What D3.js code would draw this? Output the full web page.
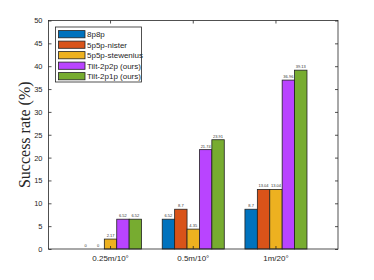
<!DOCTYPE html>
<html><head><meta charset="utf-8">
<script src="https://cdn.jsdelivr.net/npm/d3@7"></script>
<style>body{margin:0;background:#fff}svg{display:block}</style>
</head><body>
<svg id="c" width="374" height="280"></svg>
<script>
const categories = ["0.25m/10°", "0.5m/10°", "1m/20°"];
const seriesNames = ["8p8p", "5p5p-nister", "5p5p-stewenius", "Tilt-2p2p (ours)", "Tilt-2p1p (ours)"];
const s8p8p = [0, 6.52, 8.7];
const s5p5pNister = [0, 8.7, 13.04];
const s5p5pStewenius = [2.17, 4.35, 13.04];
const sTilt2p2p = [6.52, 21.74, 36.96];
const sTilt2p1p = [6.52, 23.91, 39.13];
const labels8p8p = ["0", "6.52", "8.7"];
const labelsNister = ["0", "8.7", "13.04"];
const labelsStewenius = ["2.17", "4.35", "13.04"];
const labelsTilt2p2p = ["6.52", "21.74", "36.96"];
const labelsTilt2p1p = ["6.52", "23.91", "39.13"];
const yTicks = [0, 5, 10, 15, 20, 25, 30, 35, 40, 45, 50];
const colors = ["#0072BD", "#D95319", "#EDB120", "#B944FF", "#77AC30"];

const series = [s8p8p, s5p5pNister, s5p5pStewenius, sTilt2p2p, sTilt2p1p];
const seriesLabels = [labels8p8p, labelsNister, labelsStewenius, labelsTilt2p2p, labelsTilt2p1p];

const svg = d3.select("#c");
const L = 48.5, R = 338, T = 20.5, B = 249;
const frame = "#262626";

const x = d3.scaleBand().domain(categories).range([L, R]).paddingInner(0.25).paddingOuter(0.5 - 0.25/2);
const xs = d3.scaleBand().domain(d3.range(series.length)).range([0, x.bandwidth()]);
const y = d3.scaleLinear().domain([0, 50]).range([B, T]);

// bars
series.forEach((vals, si) => {
  const g = svg.append("g");
  g.selectAll("rect").data(categories).join("rect")
    .attr("x", (c) => x(c) + xs(si))
    .attr("width", xs.bandwidth())
    .attr("y", (c, i) => y(vals[i]))
    .attr("height", (c, i) => y(0) - y(vals[i]))
    .attr("fill", colors[si])
    .attr("stroke", "#222")
    .attr("stroke-width", 0.8);
  g.selectAll("text").data(categories).join("text")
    .attr("x", (c) => x(c) + xs(si) + xs.bandwidth() / 2)
    .attr("y", (c, i) => y(vals[i]) - 2)
    .attr("text-anchor", "middle")
    .attr("font-family", "Liberation Sans, Arial, sans-serif")
    .attr("font-size", 4)
    .attr("fill", "#333")
    .text((c, i) => seriesLabels[si][i]);
});

// frame
svg.append("rect").attr("x", L).attr("y", T).attr("width", R - L).attr("height", B - T)
  .attr("fill", "none").attr("stroke", frame).attr("stroke-width", 0.8);

// y axis
const ya = svg.append("g").attr("transform", `translate(${L},0)`)
  .call(d3.axisLeft(y).tickValues(yTicks).tickSize(-3).tickPadding(6).tickFormat(d3.format("d")));
ya.select(".domain").remove();
ya.selectAll("line").attr("stroke", frame).attr("stroke-width", 0.8);
ya.selectAll("text").attr("font-family", "Liberation Sans, Arial, sans-serif").attr("font-size", 7.5).attr("fill", frame);

const yr = svg.append("g").attr("transform", `translate(${R},0)`)
  .call(d3.axisRight(y).tickValues(yTicks).tickSize(-3).tickFormat(""));
yr.select(".domain").remove();
yr.selectAll("line").attr("stroke", frame).attr("stroke-width", 0.8);

// x axis
const xa = svg.append("g").attr("transform", `translate(0,${B})`)
  .call(d3.axisBottom(x).tickSize(-3).tickPadding(6));
xa.select(".domain").remove();
xa.selectAll("line").attr("stroke", frame).attr("stroke-width", 0.8);
xa.selectAll("text").attr("font-family", "Liberation Sans, Arial, sans-serif").attr("font-size", 8).attr("fill", frame);

const xt = svg.append("g").attr("transform", `translate(0,${T})`)
  .call(d3.axisTop(x).tickSize(-3).tickFormat(""));
xt.select(".domain").remove();
xt.selectAll("line").attr("stroke", frame).attr("stroke-width", 0.8);

// y label
svg.append("text")
  .attr("transform", `translate(30,${(T + B) / 2}) rotate(-90)`)
  .attr("text-anchor", "middle")
  .attr("font-family", "Liberation Serif, Times New Roman, serif")
  .attr("font-size", 16)
  .attr("fill", frame)
  .text("Success rate (%)");

// legend
const lg = svg.append("g");
lg.append("rect").attr("x", 55.5).attr("y", 27).attr("width", 86).attr("height", 55)
  .attr("fill", "#fff").attr("stroke", frame).attr("stroke-width", 0.8);
seriesNames.forEach((n, i) => {
  const cy = 34.2 + i * 10.5;
  lg.append("rect").attr("x", 58.5).attr("y", cy - 3.6).attr("width", 26.5).attr("height", 7.2)
    .attr("fill", colors[i]).attr("stroke", "#222").attr("stroke-width", 0.8);
  lg.append("text").attr("x", 87).attr("y", cy + 2.8)
    .attr("font-family", "Liberation Sans, Arial, sans-serif").attr("font-size", 8).attr("fill", frame)
    .text(n);
});
</script>
</body></html>
